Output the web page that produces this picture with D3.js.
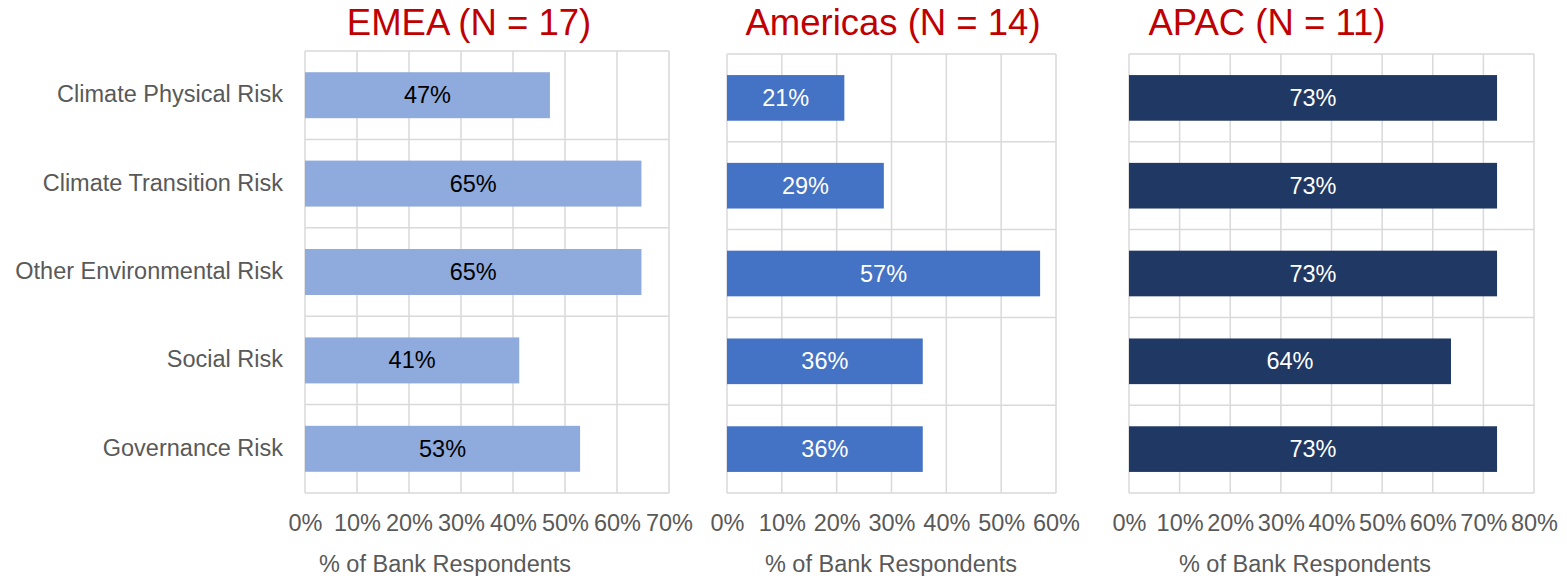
<!DOCTYPE html>
<html>
<head>
<meta charset="utf-8">
<script src="https://cdn.jsdelivr.net/npm/d3@7"></script>
<style>
  body { margin: 0; background: #fff; }
  text { font-family: 'Liberation Sans', Arial, sans-serif; }
</style>
</head>
<body>
<div id="chart"></div>
<script>
// categories, top to bottom
const categories = ['Climate Physical Risk', 'Climate Transition Risk', 'Other Environmental Risk', 'Social Risk', 'Governance Risk']

// share of bank respondents (%) per region
const emeaValues = [47.1, 64.7, 64.7, 41.2, 52.9]
const americasValues = [21.4, 28.6, 57.1, 35.7, 35.7]
const apacValues = [72.7, 72.7, 72.7, 63.6, 72.7]

const regionTitles = ['EMEA (N = 17)', 'Americas (N = 14)', 'APAC (N = 11)']
const emeaTicks = [0, 10, 20, 30, 40, 50, 60, 70]
const americasTicks = [0, 10, 20, 30, 40, 50, 60]
const apacTicks = [0, 10, 20, 30, 40, 50, 60, 70, 80]
const axisTitle = '% of Bank Respondents'

const WIDTH = 1567
const HEIGHT = 576
const GRID_COLOR = '#D9D9D9'
const TEXT_COLOR = '#595959'
const TITLE_COLOR = '#C00000'

// layout of each panel (pixels)
const panels = [
  { title: regionTitles[0], values: emeaValues, ticks: emeaTicks, x0: 305, x1: 669, top: 51, bottom: 493, fill: '#8FAADC', label: '#000000', titleX: 469, axisX: 445 },
  { title: regionTitles[1], values: americasValues, ticks: americasTicks, x0: 727, x1: 1056, top: 54, bottom: 493, fill: '#4472C4', label: '#FFFFFF', titleX: 893, axisX: 891 },
  { title: regionTitles[2], values: apacValues, ticks: apacTicks, x0: 1129, x1: 1534, top: 54, bottom: 493, fill: '#203864', label: '#FFFFFF', titleX: 1267, axisX: 1305 }
]

const svg = d3.select('#chart')
  .append('svg')
  .attr('width', WIDTH)
  .attr('height', HEIGHT)

panels.forEach(function (p, i) {
  const x = d3.scaleLinear()
    .domain([0, d3.max(p.ticks)])
    .range([p.x0, p.x1])
  const y = d3.scaleBand()
    .domain(categories)
    .range([p.top, p.bottom])
    .paddingInner(0.48)
    .paddingOuter(0.24)
  const band = d3.scaleBand()
    .domain(categories)
    .range([p.top, p.bottom])

  const g = svg.append('g').attr('class', 'panel-' + i)

  // vertical gridlines
  g.append('g')
    .selectAll('line')
    .data(p.ticks)
    .enter()
    .append('line')
    .attr('x1', d => x(d))
    .attr('x2', d => x(d))
    .attr('y1', p.top)
    .attr('y2', p.bottom)
    .attr('stroke', GRID_COLOR)
    .attr('stroke-width', 1.5)

  // horizontal gridlines between rows
  const rowEdges = categories.map(c => band(c)).concat([p.bottom])
  g.append('g')
    .selectAll('line')
    .data(rowEdges)
    .enter()
    .append('line')
    .attr('x1', p.x0)
    .attr('x2', p.x1)
    .attr('y1', d => d)
    .attr('y2', d => d)
    .attr('stroke', GRID_COLOR)
    .attr('stroke-width', 1.5)

  // bars
  g.append('g')
    .selectAll('rect')
    .data(p.values)
    .enter()
    .append('rect')
    .attr('x', x(0))
    .attr('y', (d, j) => y(categories[j]))
    .attr('width', d => x(d) - x(0))
    .attr('height', y.bandwidth())
    .attr('fill', p.fill)

  // bar labels
  g.append('g')
    .selectAll('text')
    .data(p.values)
    .enter()
    .append('text')
    .attr('x', d => (x(0) + x(d)) / 2)
    .attr('y', (d, j) => y(categories[j]) + y.bandwidth() / 2 + 8)
    .attr('text-anchor', 'middle')
    .attr('font-size', '23.5px')
    .attr('fill', p.label)
    .text(d => Math.round(d) + '%')

  // x axis tick labels
  const axis = d3.axisBottom(x)
    .tickValues(p.ticks)
    .tickSize(0)
    .tickPadding(0)
    .tickFormat(d => d + '%')
  g.append('g')
    .attr('transform', 'translate(0,' + 531 + ')')
    .call(axis)
    .call(a => a.select('.domain').remove())
    .selectAll('text')
    .attr('dy', 0)
    .attr('font-size', '23.5px')
    .attr('font-family', "'Liberation Sans', Arial, sans-serif")
    .attr('fill', TEXT_COLOR)

  // axis title
  g.append('text')
    .attr('x', p.axisX)
    .attr('y', 572)
    .attr('text-anchor', 'middle')
    .attr('font-size', '23.5px')
    .attr('fill', TEXT_COLOR)
    .text(axisTitle)

  // panel title
  g.append('text')
    .attr('x', p.titleX)
    .attr('y', 35)
    .attr('text-anchor', 'middle')
    .attr('font-size', '36.5px')
    .attr('fill', TITLE_COLOR)
    .text(p.title)

  // category labels only on first panel
  if (i === 0) {
    g.append('g')
      .selectAll('text')
      .data(categories)
      .enter()
      .append('text')
      .attr('x', 283)
      .attr('y', d => band(d) + band.bandwidth() / 2 + 7)
      .attr('text-anchor', 'end')
      .attr('font-size', '23.5px')
      .attr('fill', TEXT_COLOR)
      .text(d => d)
  }
})
</script>
</body>
</html>
